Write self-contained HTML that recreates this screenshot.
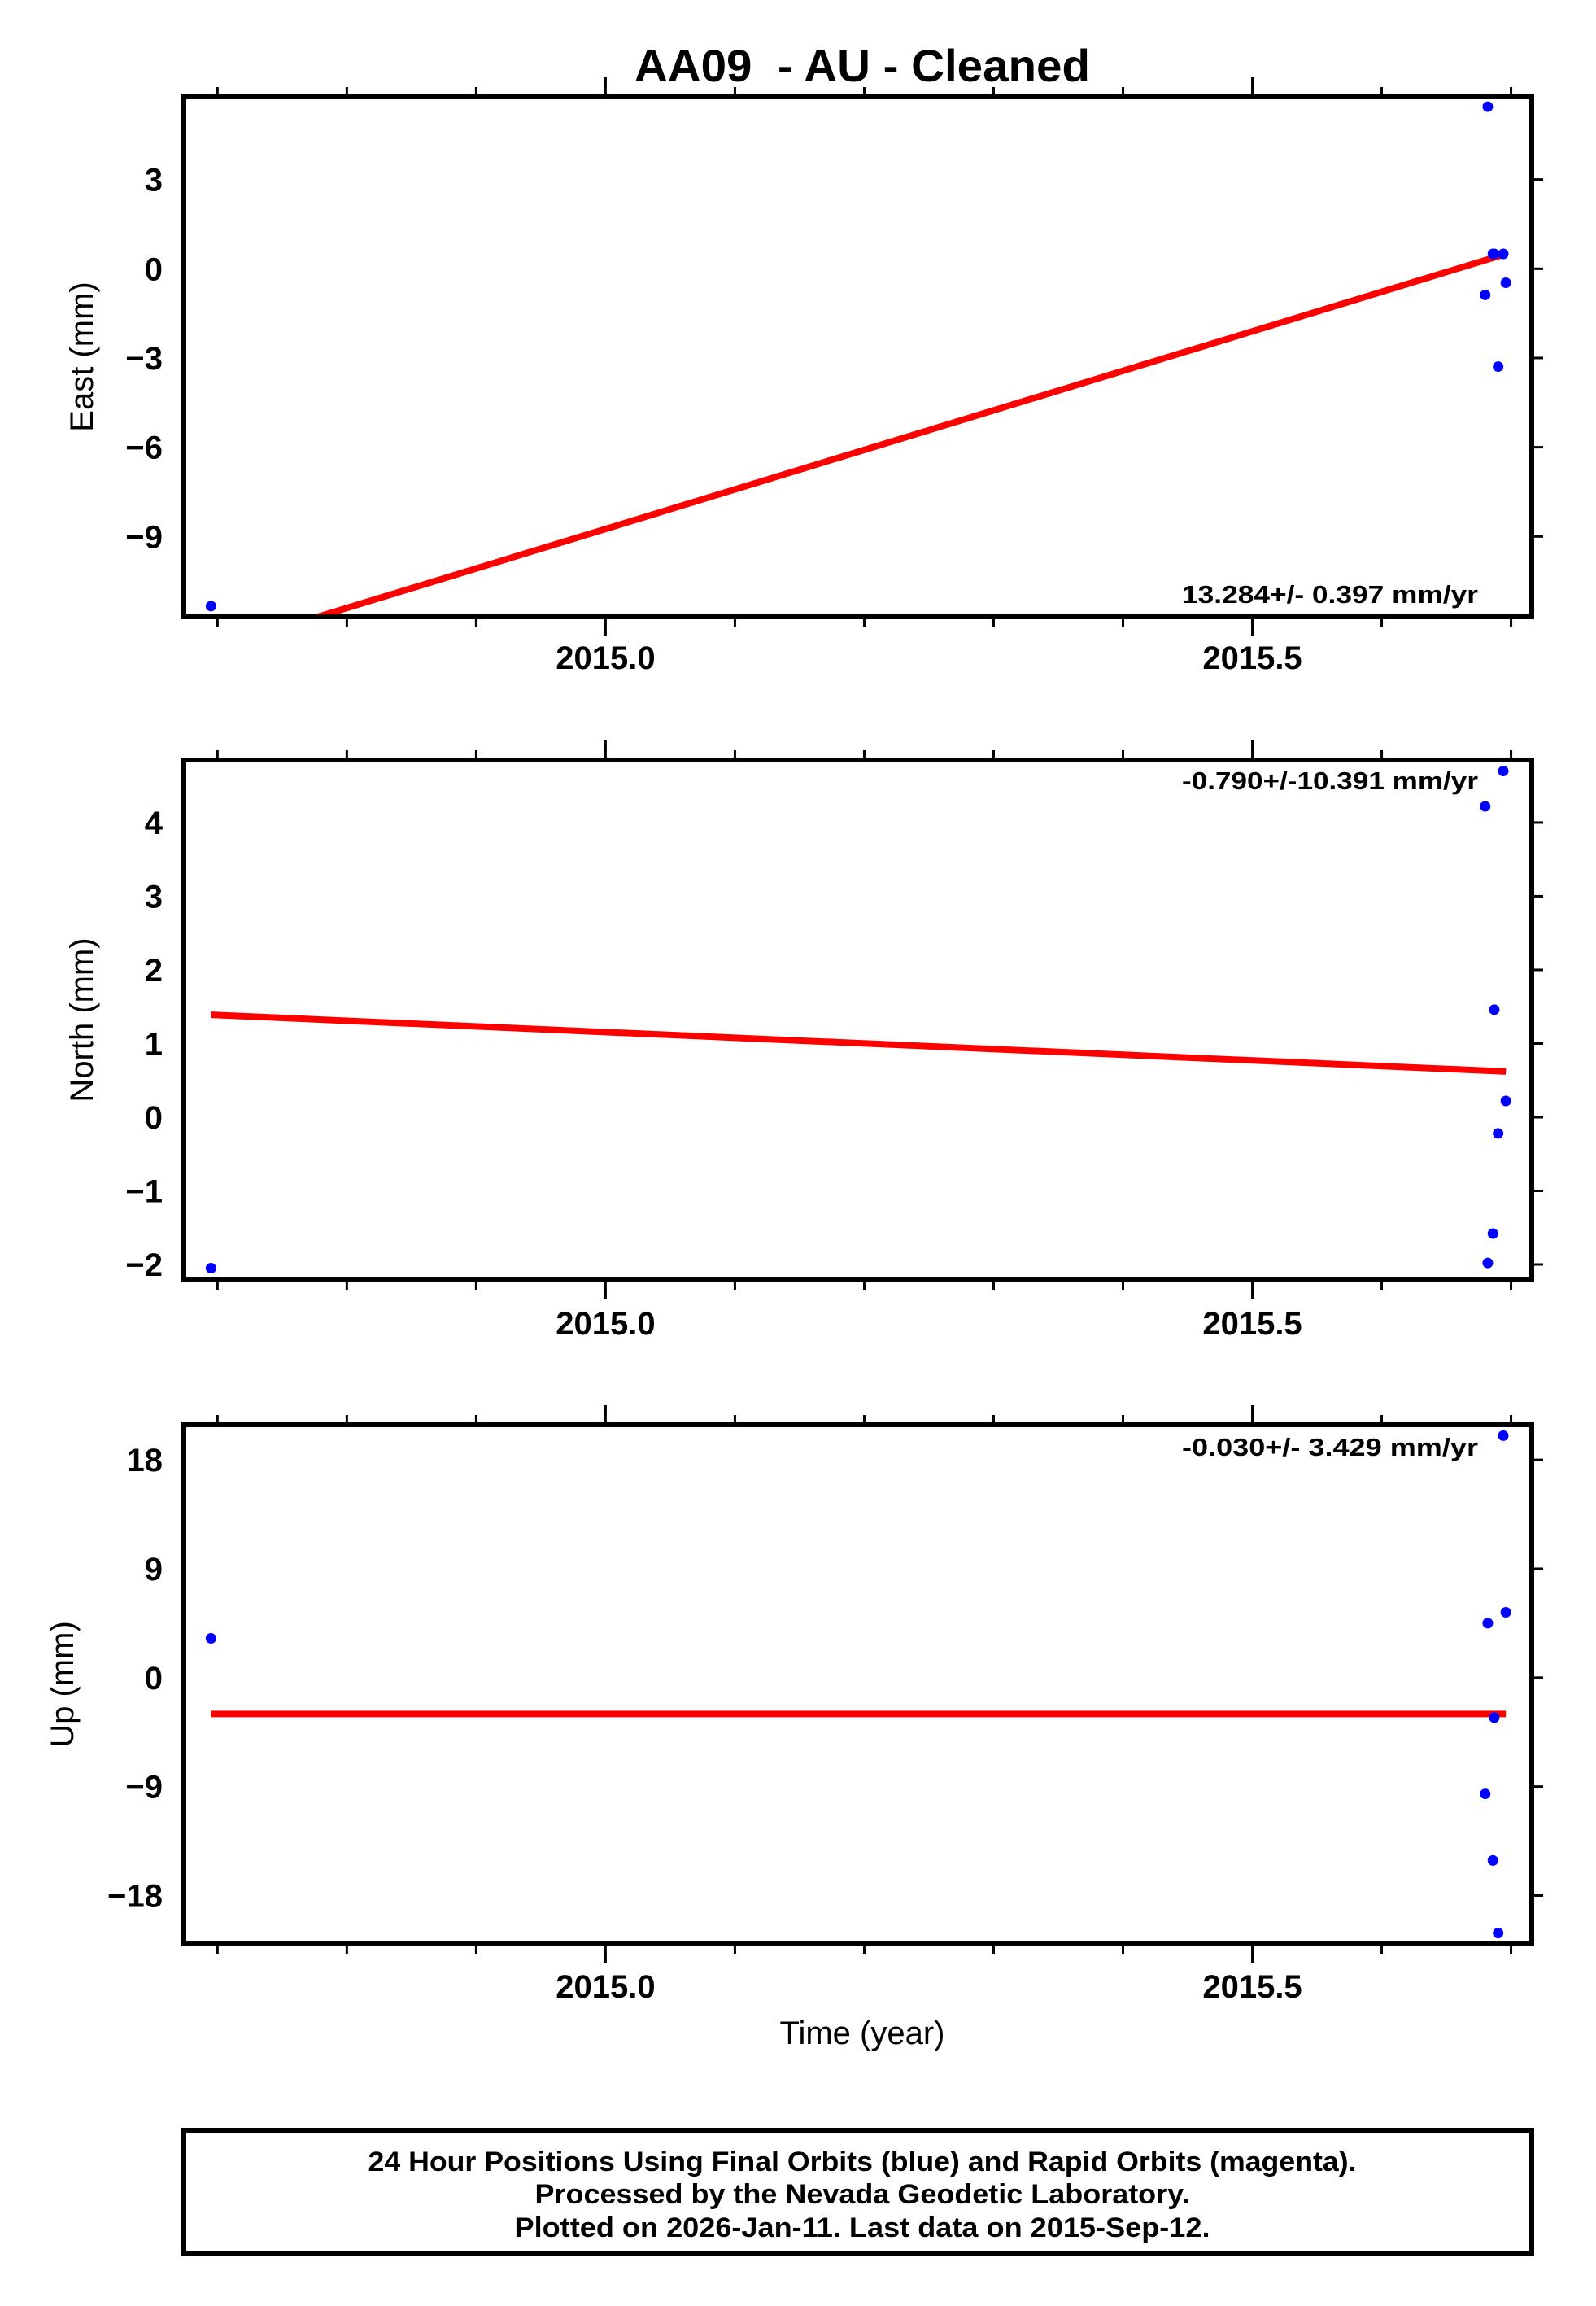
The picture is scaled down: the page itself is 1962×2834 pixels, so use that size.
<!DOCTYPE html>
<html><head><meta charset="utf-8"><style>
html,body{margin:0;padding:0;background:#fff}
svg{display:block}
text{font-family:"Liberation Sans",sans-serif}
</style></head><body>
<svg id="chart" width="1962" height="2834" viewBox="0 0 1962 2834" xmlns="http://www.w3.org/2000/svg">
<text x="1060" y="100" text-anchor="middle" font-size="56" font-weight="bold" textLength="560" lengthAdjust="spacingAndGlyphs">AA09&#160; - AU - Cleaned</text>
<g id="plots"></g>
<rect x="226" y="2618" width="1657" height="152" fill="none" stroke="#000" stroke-width="6"/>
<text x="1060" y="2668" text-anchor="middle" font-size="34" font-weight="bold" textLength="1215" lengthAdjust="spacingAndGlyphs">24 Hour Positions Using Final Orbits (blue) and Rapid Orbits (magenta).</text>
<text x="1060" y="2708" text-anchor="middle" font-size="34" font-weight="bold" textLength="805" lengthAdjust="spacingAndGlyphs">Processed by the Nevada Geodetic Laboratory.</text>
<text x="1060" y="2749" text-anchor="middle" font-size="34" font-weight="bold" textLength="855" lengthAdjust="spacingAndGlyphs">Plotted on 2026-Jan-11. Last data on 2015-Sep-12.</text>
<text x="1060" y="2512" text-anchor="middle" font-size="40">Time (year)</text>
</svg>
<script>
const dates = [2014.695, 2015.680, 2015.682, 2015.686, 2015.687, 2015.690, 2015.694, 2015.696];
const eastValues = [-11.34, -0.88, 5.45, 0.5, 0.5, -3.29, 0.5, -0.47];
const northValues = [-2.05, 4.22, -1.98, -1.58, 1.46, -0.22, 4.7, 0.22];
const upValues = [3.25, -9.6, 4.5, -15.1, -3.3, -21.1, 20.0, 5.4];
const eastTrend = [-12.8, 0.5];
const northTrend = [1.39, 0.62];
const upTrend = [-3.0, -3.0];
const trendDates = [2014.695, 2015.696];
const eastTicks = [-9, -6, -3, 0, 3];
const northTicks = [-2, -1, 0, 1, 2, 3, 4];
const upTicks = [-18, -9, 0, 9, 18];
const xMajorTicks = [2015.0, 2015.5];
const xMinorTicks = [2014.7, 2014.8, 2014.9, 2015.1, 2015.2, 2015.3, 2015.4, 2015.6, 2015.7];
const rates = ["13.284+/- 0.397 mm/yr", "-0.790+/-10.391 mm/yr", "-0.030+/- 3.429 mm/yr"];

const NS = "http://www.w3.org/2000/svg";
const root = document.getElementById('plots');
const X0 = 2014.674, X1 = 2015.716, PL = 226, PR = 1883;
function xs(t){ return PL + (t - X0) / (X1 - X0) * (PR - PL); }
function mk(tag, attrs, parent){
  const e = document.createElementNS(NS, tag);
  for (const k in attrs) e.setAttribute(k, attrs[k]);
  (parent || root).appendChild(e);
  return e;
}
const panels = [
  {name:'east', top:119, bot:758, ymin:-11.7, ymax:5.78, vals:eastValues, trend:eastTrend, ticks:eastTicks, label:'East (mm)', lx:100, rate:rates[0], rateY:741, xlabY:822},
  {name:'north', top:934, bot:1573, ymin:-2.21, ymax:4.85, vals:northValues, trend:northTrend, ticks:northTicks, label:'North (mm)', lx:100, rate:rates[1], rateY:970, xlabY:1640},
  {name:'up', top:1751, bot:2389, ymin:-22.0, ymax:20.9, vals:upValues, trend:upTrend, ticks:upTicks, label:'Up (mm)', lx:76, rate:rates[2], rateY:1789, xlabY:2455}
];
panels.forEach(p => {
  const g = mk('g', {});
  
  
  const ys = v => p.bot - (v - p.ymin) / (p.ymax - p.ymin) * (p.bot - p.top);
  const clipId = 'clip-' + p.name;
  const cp = mk('clipPath', {id: clipId}, g);
  mk('rect', {x: PL, y: p.top, width: PR - PL, height: p.bot - p.top}, cp);
  p.ticks.forEach(v => {
    const y = ys(v);
    const tk = mk('line', {x1: PR, x2: PR + 14, y1: y, y2: y, stroke: '#000', 'stroke-width': 3}, g);
    
    
    const tl = mk('text', {x: 200, y: y + 14, 'text-anchor': 'end', 'font-size': 40, 'font-weight': 'bold'}, g);
    tl.textContent = (v < 0 ? '\u2212' + Math.abs(v) : String(v));
    
    
  });
  xMinorTicks.forEach(t => {
    const x = xs(t);
    mk('line', {x1: x, x2: x, y1: p.top, y2: p.top - 12, stroke: '#000', 'stroke-width': 3}, g);
    mk('line', {x1: x, x2: x, y1: p.bot, y2: p.bot + 12, stroke: '#000', 'stroke-width': 3}, g);
  });
  xMajorTicks.forEach(t => {
    const x = xs(t);
    mk('line', {x1: x, x2: x, y1: p.top, y2: p.top - 24, stroke: '#000', 'stroke-width': 3}, g);
    mk('line', {x1: x, x2: x, y1: p.bot, y2: p.bot + 24, stroke: '#000', 'stroke-width': 3}, g);
    const xl = mk('text', {x: x, y: p.xlabY, 'text-anchor': 'middle', 'font-size': 40, 'font-weight': 'bold'}, g);
    xl.textContent = t.toFixed(1);
    
    
  });
  const tline = mk('line', {x1: xs(trendDates[0]), y1: ys(p.trend[0]), x2: xs(trendDates[1]), y2: ys(p.trend[1]), stroke: '#ff0000', 'stroke-width': 8, 'clip-path': 'url(#' + clipId + ')'}, g);
  
  
  p.vals.forEach((v, i) => {
    const c = mk('circle', {cx: xs(dates[i]), cy: ys(v), r: 6.5, fill: '#0000ff'}, g);
    
    
  });
  const fr = mk('rect', {x: PL, y: p.top, width: PR - PL, height: p.bot - p.top, fill: 'none', stroke: '#000', 'stroke-width': 6}, g);
  
  
  const rt = mk('text', {x: 1817, y: p.rateY, 'text-anchor': 'end', 'font-size': 31, 'font-weight': 'bold', textLength: 364, lengthAdjust: 'spacingAndGlyphs'}, g);
  rt.textContent = p.rate;
  
  
  const cy = (p.top + p.bot) / 2;
  const yl = mk('text', {x: p.lx, y: cy, 'text-anchor': 'middle', 'font-size': 40, transform: 'rotate(-90 ' + p.lx + ' ' + cy + ')', dy: 14}, g);
  yl.textContent = p.label;
  
  
});
</script>
</body></html>
